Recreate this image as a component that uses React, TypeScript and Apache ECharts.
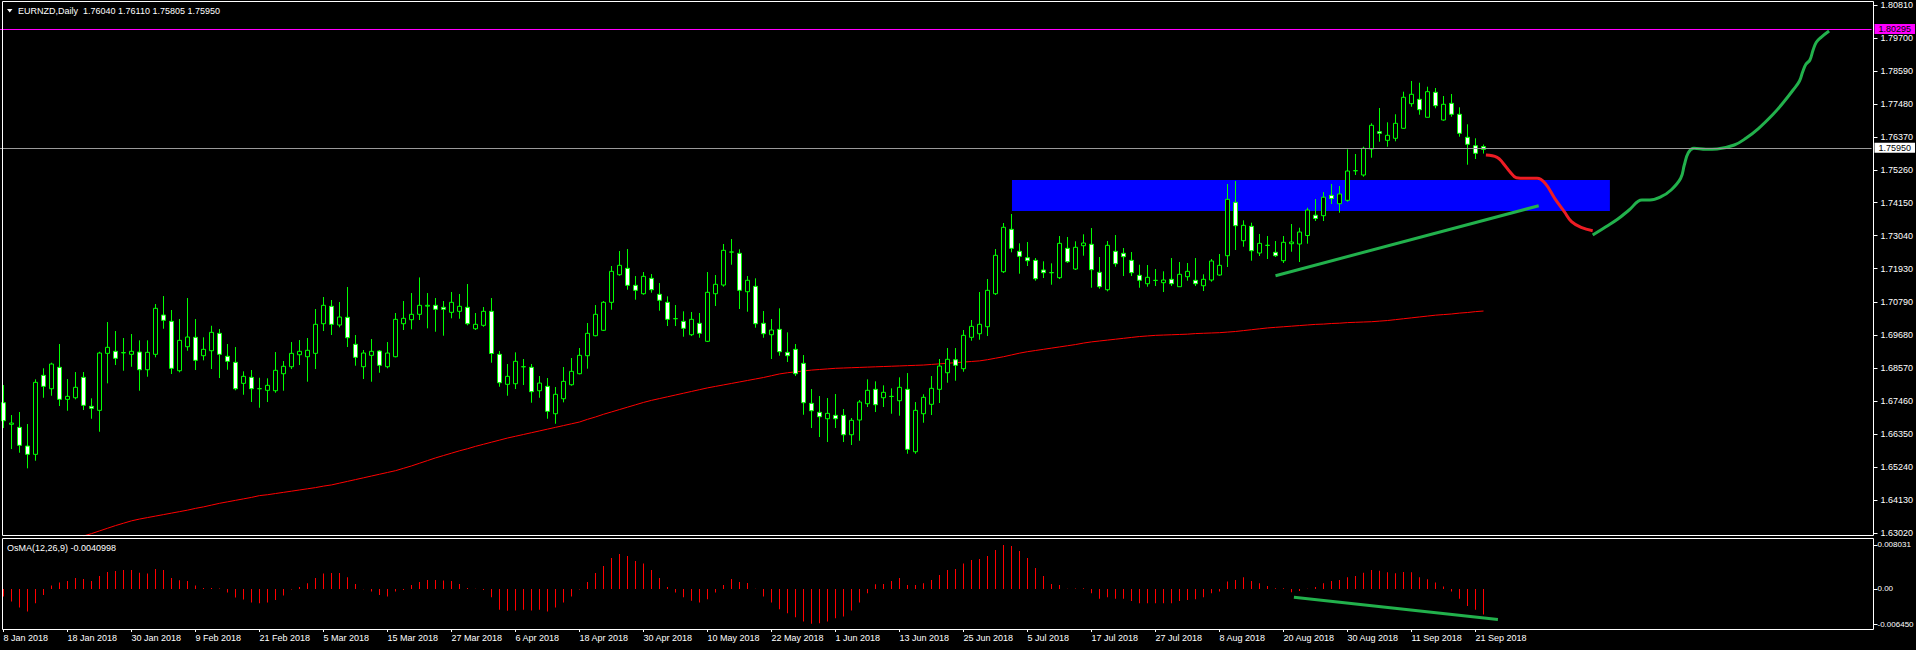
import React, { useEffect, useRef } from 'react';
import * as echarts from 'echarts';

const W = 1916;
const H = 650;
const N_SLOTS = 234; // bar slots visible in the window (data + empty space on the right)
const FONT = '"Liberation Sans", Arial, sans-serif';

const TITLE = 'EURNZD,Daily  1.76040 1.76110 1.75805 1.75950';
const OSMA_TITLE = 'OsMA(12,26,9) -0.0040998';

const TICK_LABELS = [
  '8 Jan 2018', '18 Jan 2018', '30 Jan 2018', '9 Feb 2018', '21 Feb 2018', '5 Mar 2018',
  '15 Mar 2018', '27 Mar 2018', '6 Apr 2018', '18 Apr 2018', '30 Apr 2018', '10 May 2018',
  '22 May 2018', '1 Jun 2018', '13 Jun 2018', '25 Jun 2018', '5 Jul 2018', '17 Jul 2018',
  '27 Jul 2018', '8 Aug 2018', '20 Aug 2018', '30 Aug 2018', '11 Sep 2018', '21 Sep 2018',
];
const TICK_EVERY = 8;

const PRICE_TICKS = [
  1.8081, 1.797, 1.7859, 1.7748, 1.7637, 1.7526, 1.7415, 1.7304, 1.7193,
  1.7079, 1.6968, 1.6857, 1.6746, 1.6635, 1.6524, 1.6413, 1.6302,
];
const PRICE_MIN = 1.62919;
const PRICE_MAX = 1.80913;
const BID_PRICE = 1.7595;
const ALERT_PRICE = 1.80295;

const OSMA_MIN = -0.00645;
const OSMA_MAX = 0.008031;
const OSMA_TICKS = [0.008031, 0, -0.00645];
const OSMA_TICK_TEXT = ['0.008031', '0.00', '-0.006450'];

// [open, high, low, close]
const OHLC: number[][] = [
  [1.6741, 1.68006, 1.66557, 1.66803], [1.66682, 1.66995, 1.65849, 1.66725], [1.6658, 1.67096, 1.65725, 1.65974],
  [1.6595, 1.66692, 1.65199, 1.65671], [1.65671, 1.68198, 1.65455, 1.68097], [1.68333, 1.68569, 1.67578, 1.67962],
  [1.67881, 1.68758, 1.67645, 1.68714], [1.68603, 1.69388, 1.67298, 1.67524], [1.67524, 1.68208, 1.6714, 1.67625],
  [1.67578, 1.68444, 1.67524, 1.67929], [1.68265, 1.68444, 1.67164, 1.67322], [1.67288, 1.67558, 1.6687, 1.67221],
  [1.67153, 1.69128, 1.66432, 1.69084], [1.69074, 1.70129, 1.68063, 1.69277], [1.69142, 1.69826, 1.6868, 1.68906],
  [1.6909, 1.6959, 1.68488, 1.691], [1.69041, 1.69725, 1.68623, 1.69142], [1.69118, 1.69512, 1.67814, 1.68522],
  [1.68522, 1.69512, 1.68286, 1.69108], [1.69041, 1.70736, 1.6894, 1.70591], [1.70365, 1.71005, 1.69903, 1.70186],
  [1.70153, 1.70534, 1.68377, 1.68569], [1.68488, 1.7023, 1.68434, 1.69512], [1.69297, 1.70938, 1.69162, 1.69624],
  [1.69614, 1.7023, 1.68512, 1.68838], [1.68994, 1.69614, 1.68838, 1.69209], [1.69162, 1.70004, 1.68545, 1.69782],
  [1.69748, 1.69893, 1.68242, 1.69041], [1.68974, 1.69388, 1.68522, 1.68805], [1.68771, 1.69287, 1.67828, 1.67881],
  [1.68063, 1.68468, 1.67679, 1.68299], [1.68265, 1.68512, 1.67433, 1.67881], [1.67885, 1.68252, 1.67241, 1.6788],
  [1.67828, 1.68232, 1.67433, 1.67996], [1.67814, 1.69118, 1.67747, 1.68502], [1.68387, 1.68815, 1.67814, 1.68637],
  [1.68623, 1.69455, 1.68545, 1.69074], [1.69027, 1.69522, 1.6868, 1.69142], [1.6896, 1.6959, 1.68118, 1.69176],
  [1.69074, 1.70568, 1.68545, 1.70052], [1.70072, 1.70972, 1.69826, 1.70692], [1.70659, 1.70871, 1.69691, 1.70052],
  [1.70028, 1.70803, 1.6995, 1.70298], [1.70288, 1.71309, 1.69287, 1.696], [1.69378, 1.69691, 1.68657, 1.6894],
  [1.68623, 1.69185, 1.68208, 1.69084], [1.69007, 1.69556, 1.68118, 1.69142], [1.69152, 1.69185, 1.6842, 1.6867],
  [1.68623, 1.69455, 1.68569, 1.69084], [1.6896, 1.70433, 1.6894, 1.7022], [1.70072, 1.70837, 1.6986, 1.70254],
  [1.70207, 1.71106, 1.69883, 1.70389], [1.70389, 1.71632, 1.70197, 1.70692], [1.70665, 1.71106, 1.69917, 1.70692],
  [1.70692, 1.70938, 1.69802, 1.70558], [1.70625, 1.70837, 1.69668, 1.70558], [1.70456, 1.7114, 1.70254, 1.70793],
  [1.7049, 1.71073, 1.70241, 1.70659], [1.70625, 1.7141, 1.70018, 1.70072], [1.69903, 1.70433, 1.6986, 1.70052],
  [1.70018, 1.70635, 1.6997, 1.7049], [1.7049, 1.70938, 1.68758, 1.69068], [1.69041, 1.69152, 1.67949, 1.68084],
  [1.6803, 1.68714, 1.67645, 1.68299], [1.6805, 1.69108, 1.67871, 1.68805], [1.6862, 1.68883, 1.68006, 1.68625],
  [1.68603, 1.68714, 1.6741, 1.67781], [1.67814, 1.68309, 1.67578, 1.68073], [1.67962, 1.68242, 1.6687, 1.6712],
  [1.67039, 1.67939, 1.66702, 1.67693], [1.67544, 1.68613, 1.67423, 1.6813], [1.68016, 1.68916, 1.67983, 1.68468],
  [1.68387, 1.69253, 1.68367, 1.69007], [1.68994, 1.70096, 1.68556, 1.69748], [1.69668, 1.70702, 1.69647, 1.70389],
  [1.6985, 1.70837, 1.69826, 1.70793], [1.70793, 1.72017, 1.70544, 1.71838], [1.71723, 1.72522, 1.7169, 1.7204],
  [1.71939, 1.72589, 1.71218, 1.71366], [1.71366, 1.71679, 1.70881, 1.71197], [1.71083, 1.71814, 1.71049, 1.71669],
  [1.71602, 1.71746, 1.71117, 1.71218], [1.71063, 1.71443, 1.7051, 1.70861], [1.70793, 1.70995, 1.69994, 1.7022],
  [1.7024, 1.70702, 1.69994, 1.70245], [1.70153, 1.7049, 1.69634, 1.69917], [1.69701, 1.70466, 1.69657, 1.7022],
  [1.70086, 1.70433, 1.696, 1.69748], [1.69479, 1.71814, 1.69455, 1.7113], [1.71083, 1.71713, 1.70669, 1.714],
  [1.71376, 1.72758, 1.71319, 1.72546], [1.72485, 1.72926, 1.7206, 1.7249], [1.72445, 1.72579, 1.70568, 1.71197],
  [1.7115, 1.71679, 1.70476, 1.71535], [1.71332, 1.71602, 1.69937, 1.70072], [1.70086, 1.705, 1.696, 1.69735],
  [1.69701, 1.7023, 1.68883, 1.6986], [1.69883, 1.70591, 1.68994, 1.69128], [1.69108, 1.69782, 1.68781, 1.68994],
  [1.69209, 1.69388, 1.68309, 1.68387], [1.68737, 1.69017, 1.67005, 1.6741], [1.6739, 1.67871, 1.66557, 1.6714],
  [1.67086, 1.67635, 1.66254, 1.66938], [1.6687, 1.67568, 1.66085, 1.67052], [1.66985, 1.67703, 1.66557, 1.6687],
  [1.66985, 1.67197, 1.66085, 1.66331], [1.66331, 1.66894, 1.65985, 1.66817], [1.66827, 1.67501, 1.66129, 1.67433],
  [1.67376, 1.68198, 1.67265, 1.67828], [1.67861, 1.6813, 1.67096, 1.67342], [1.67578, 1.67996, 1.67265, 1.6776],
  [1.6762, 1.67895, 1.67039, 1.67625], [1.67477, 1.68265, 1.66972, 1.67929], [1.67861, 1.6841, 1.65691, 1.65839],
  [1.65758, 1.67433, 1.65691, 1.67153], [1.67039, 1.67693, 1.66736, 1.67592], [1.67356, 1.68309, 1.66995, 1.67895],
  [1.67861, 1.68883, 1.674, 1.68646], [1.6842, 1.69253, 1.68084, 1.68873], [1.68859, 1.69253, 1.68151, 1.6867],
  [1.68556, 1.6986, 1.68454, 1.69681], [1.69614, 1.70197, 1.69499, 1.69984], [1.69735, 1.7114, 1.69533, 1.70052],
  [1.69971, 1.71578, 1.69657, 1.71197], [1.71083, 1.72589, 1.71039, 1.72377], [1.71824, 1.73466, 1.71781, 1.73321],
  [1.73253, 1.73769, 1.72478, 1.72613], [1.72512, 1.72781, 1.71757, 1.72343], [1.72296, 1.72825, 1.72017, 1.72195],
  [1.72208, 1.72286, 1.71521, 1.71588], [1.71882, 1.72175, 1.71612, 1.71791], [1.7179, 1.72107, 1.71386, 1.71795],
  [1.71622, 1.73027, 1.71578, 1.72781], [1.72613, 1.72994, 1.72118, 1.72161], [1.71916, 1.72849, 1.71882, 1.72647],
  [1.727, 1.73085, 1.72364, 1.72791], [1.72748, 1.73297, 1.71285, 1.71892], [1.71804, 1.7232, 1.71251, 1.71319],
  [1.71218, 1.72859, 1.71164, 1.72714], [1.72512, 1.73061, 1.71993, 1.72094], [1.72445, 1.72623, 1.71679, 1.7233],
  [1.72208, 1.72488, 1.71679, 1.71791], [1.71703, 1.7206, 1.71285, 1.71535], [1.7142, 1.7205, 1.71319, 1.71636],
  [1.7153, 1.71916, 1.71342, 1.71535], [1.71454, 1.71838, 1.7114, 1.71545], [1.71568, 1.72286, 1.71342, 1.7142],
  [1.71319, 1.72151, 1.71319, 1.71737], [1.71656, 1.72118, 1.71521, 1.71838], [1.71535, 1.72286, 1.71342, 1.7142],
  [1.71352, 1.71737, 1.71174, 1.71568], [1.71545, 1.72252, 1.71488, 1.72185], [1.71713, 1.72421, 1.7169, 1.7204],
  [1.72364, 1.7478, 1.71983, 1.74264], [1.74163, 1.74881, 1.72556, 1.73375], [1.72869, 1.73556, 1.72667, 1.73388],
  [1.73354, 1.73476, 1.72195, 1.72532], [1.72455, 1.73095, 1.72354, 1.72781], [1.7271, 1.73027, 1.72252, 1.72715],
  [1.72478, 1.72859, 1.7232, 1.72364], [1.72195, 1.73027, 1.72118, 1.72815], [1.72768, 1.73432, 1.72498, 1.72825],
  [1.72758, 1.73307, 1.72151, 1.73162], [1.73044, 1.73981, 1.72768, 1.73904], [1.73729, 1.74274, 1.73533, 1.73617],
  [1.73712, 1.7451, 1.73533, 1.74335], [1.74399, 1.7478, 1.74106, 1.74291], [1.74116, 1.74712, 1.73812, 1.74443],
  [1.74231, 1.75949, 1.74183, 1.75218], [1.75225, 1.75791, 1.75083, 1.7523], [1.75083, 1.76037, 1.75026, 1.75983],
  [1.75959, 1.76825, 1.75666, 1.76758], [1.76542, 1.77341, 1.76205, 1.76488], [1.76252, 1.76859, 1.76037, 1.76421],
  [1.7632, 1.77129, 1.76219, 1.76825], [1.76657, 1.77891, 1.76643, 1.77702], [1.77486, 1.78251, 1.77385, 1.77803],
  [1.77634, 1.78193, 1.77115, 1.77284], [1.77028, 1.78059, 1.77028, 1.77891], [1.7787, 1.78015, 1.77331, 1.77419],
  [1.76937, 1.77745, 1.76913, 1.77466], [1.77499, 1.77813, 1.77048, 1.77129], [1.77129, 1.77365, 1.76374, 1.76488],
  [1.76354, 1.76792, 1.7543, 1.76118], [1.76071, 1.7632, 1.75623, 1.75814], [1.7604, 1.7611, 1.75805, 1.7595],
];

// 200-period moving average, first visible at bar 10
const MA_START = 10;
const MA_VALUES = [
  1.6292, 1.63, 1.6309, 1.6318, 1.6327, 1.6335, 1.6343, 1.6349, 1.6354, 1.6359,
  1.6364, 1.6369, 1.6374, 1.6379, 1.6385, 1.639, 1.6396, 1.6402, 1.6407, 1.6412,
  1.6417, 1.6422, 1.6428, 1.6431, 1.6435, 1.6439, 1.6443, 1.6447, 1.6451, 1.6455,
  1.646, 1.6464, 1.647, 1.6476, 1.6482, 1.6488, 1.6494, 1.65, 1.6506, 1.6512,
  1.652, 1.6528, 1.6537, 1.6546, 1.6555, 1.6563, 1.6571, 1.6579, 1.6586, 1.6594,
  1.6601, 1.6608, 1.6615, 1.6622, 1.6628, 1.6634, 1.664, 1.6646, 1.6652, 1.6658,
  1.6664, 1.667, 1.6676, 1.6685, 1.6693, 1.6702, 1.671, 1.6718, 1.6726, 1.6734,
  1.6742, 1.6749, 1.6755, 1.6761, 1.6767, 1.6773, 1.6779, 1.6785, 1.6791, 1.6796,
  1.6801, 1.6806, 1.6811, 1.6816, 1.6821, 1.6826, 1.6832, 1.6838, 1.6842, 1.6845,
  1.6848, 1.6851, 1.6853, 1.6855, 1.6857, 1.6858, 1.6859, 1.686, 1.6861, 1.6862,
  1.6863, 1.6864, 1.6865, 1.6866, 1.6867, 1.6868, 1.687, 1.6872, 1.6874, 1.6876,
  1.6878, 1.688, 1.6882, 1.6886, 1.6891, 1.6896, 1.6902, 1.6908, 1.6913, 1.6917,
  1.6921, 1.6925, 1.6929, 1.6933, 1.6937, 1.6942, 1.6946, 1.6949, 1.6952, 1.6955,
  1.6958, 1.6961, 1.6964, 1.6966, 1.6968, 1.6969, 1.697, 1.6971, 1.6972, 1.6974,
  1.6975, 1.6976, 1.6977, 1.6979, 1.6981, 1.6984, 1.6987, 1.699, 1.6993, 1.6995,
  1.6997, 1.6999, 1.7001, 1.7003, 1.7005, 1.7006, 1.7008, 1.7009, 1.7011, 1.7012,
  1.7013, 1.7014, 1.7016, 1.7018, 1.7021, 1.7024, 1.7027, 1.703, 1.7033, 1.7036,
  1.7038, 1.704, 1.7043, 1.7045, 1.7048, 1.705,
];

const OSMA = [
  -0.00123, -0.00203, -0.003, -0.00364, -0.0023, -0.00096, 0.00054, 0.00102, 0.00128, 0.00177,
  0.0016, 0.00128, 0.00209, 0.00273, 0.00289, 0.00305, 0.00305, 0.00262, 0.00246, 0.00321,
  0.00305, 0.00177, 0.00139, 0.00128, 0.00054, 0.00016, 0.00016, 0.00005, -0.00059, -0.00139,
  -0.00171, -0.0022, -0.0023, -0.0022, -0.00177, -0.00107, -0.0001, 0.00032, 0.00091, 0.00177,
  0.00246, 0.00257, 0.00257, 0.00187, 0.0008, -0.00005, -0.00043, -0.00096, -0.00123, -0.00043,
  -0.00016, 0.00064, 0.00112, 0.00145, 0.00145, 0.00134, 0.00128, 0.0008, 0.00016, 0.00002,
  -0.00016, -0.00134, -0.00337, -0.00353, -0.00348, -0.00337, -0.00348, -0.00337, -0.00364, -0.003,
  -0.0022, -0.00123, -0.0001, 0.00112, 0.00257, 0.00369, 0.00498, 0.00562, 0.0053, 0.0045,
  0.00407, 0.00305, 0.00177, 0.00032, -0.00059, -0.00134, -0.0019, -0.0022, -0.00166, -0.00059,
  0.00064, 0.0016, 0.00112, 0.00096, 0.00002, -0.00123, -0.0022, -0.00327, -0.00391, -0.00455,
  -0.00525, -0.00562, -0.00551, -0.00525, -0.00471, -0.00444, -0.00348, -0.0022, -0.0007, 0.00075,
  0.0008, 0.00128, 0.00177, 0.00064, 0.00064, 0.00091, 0.00145, 0.00225, 0.00305, 0.00321,
  0.00407, 0.00466, 0.00482, 0.0053, 0.00626, 0.00707, 0.00691, 0.0061, 0.00498, 0.00337,
  0.00209, 0.0008, 0.00064, 0.00002, 0.00005, 0.0001, -0.0007, -0.0016, -0.00134, -0.0016,
  -0.0016, -0.00193, -0.0023, -0.0023, -0.0023, -0.0023, -0.0023, -0.00193, -0.00177, -0.00166,
  -0.00134, -0.0007, -0.00043, 0.00118, 0.00145, 0.00187, 0.00128, 0.00091, 0.00048, 0.0001,
  0.0001, -0.00054, -0.00032, 0.00003, 0.00032, 0.00091, 0.00128, 0.00145, 0.00187, 0.00209,
  0.00262, 0.00305, 0.00294, 0.00268, 0.00252, 0.00273, 0.00268, 0.00187, 0.00155, 0.00102,
  0.00037, -0.00043, -0.0016, -0.00273, -0.00337, -0.0041,
];

// Drawn objects, in (bar position, price) units
const ZONE_BARS = [126.06, 200.8];
const ZONE_PRICES = [1.74915, 1.7387];
const TRENDLINE = [[159.0, 1.7169], [191.9, 1.74047]];
const PROJ_DOWN = [
  [185.3, 1.75757], [186.7, 1.7568], [187.4, 1.75498], [188.3, 1.75195], [189.1, 1.74993],
  [190.3, 1.74972], [191.7, 1.74972], [192.7, 1.74804], [193.9, 1.74298], [195.1, 1.73847],
  [196.0, 1.7351], [197.2, 1.73321], [198.65, 1.73207],
];
const PROJ_UP = [
  [198.65, 1.73062], [200.3, 1.73341], [201.75, 1.73591], [203.2, 1.73904], [204.8, 1.74241],
  [205.8, 1.74241], [207.2, 1.74352], [208.45, 1.74578], [209.65, 1.74972], [210.1, 1.7542],
  [210.6, 1.75835], [211.3, 1.75983], [212.8, 1.7595], [214.2, 1.7596], [216.35, 1.76094],
  [217.8, 1.7632], [219.4, 1.76657], [221.2, 1.77129], [222.4, 1.775], [223.7, 1.77948],
  [224.5, 1.78251], [224.9, 1.78564], [225.3, 1.78814], [225.8, 1.78959], [226.2, 1.79296],
  [226.6, 1.79555], [227.2, 1.79724], [228.2, 1.79936],
];
const OSMA_TRENDLINE = [[161.3, -0.00133], [186.8, -0.00493]];

export default function App() {
  const ref = useRef<HTMLDivElement>(null);

  useEffect(() => {
    document.body.style.margin = '0';
    document.body.style.background = '#000';
    const chart = echarts.init(ref.current as HTMLDivElement, undefined, {
      renderer: 'svg',
      width: W,
      height: H,
    });

    const cats = Array.from({ length: N_SLOTS }, (_, i) => String(i));
    const candleData = OHLC.map(([o, h, l, c]) => [o, c, l, h]);
    const maData: (number | null)[] = [];
    for (let i = 0; i < MA_START; i++) maData.push(null);
    MA_VALUES.forEach((v) => maData.push(v));

    const isTick = (idx: number) =>
      idx % TICK_EVERY === 0 && idx / TICK_EVERY < TICK_LABELS.length;

    const textStyle = { color: '#fff', fontSize: 9, fontFamily: FONT };
    const gridL = -0.5;
    const gridW = N_SLOTS * 8;

    const option: any = {
      animation: false,
      backgroundColor: '#000',
      grid: [
        { left: gridL, top: 2, width: gridW, height: 534, containLabel: false, outerBoundsMode: 'none' },
        { left: gridL, top: 539, width: gridW, height: 90, containLabel: false, outerBoundsMode: 'none' },
      ],
      xAxis: [
        { type: 'category', gridIndex: 0, data: cats, show: false, axisLine: { onZero: false } },
        {
          type: 'category',
          gridIndex: 1,
          data: cats,
          position: 'bottom',
          axisLine: { show: false, onZero: false },
          axisTick: {
            show: true,
            alignWithLabel: true,
            interval: (idx: number) => isTick(idx),
            length: 3,
            lineStyle: { color: '#fff', width: 1 },
          },
          axisLabel: {
            interval: (idx: number) => isTick(idx),
            formatter: (v: string) => {
              const idx = Number(v);
              return isTick(idx) ? TICK_LABELS[idx / TICK_EVERY] : '';
            },
            align: 'left',
            margin: 4,
            ...textStyle,
          },
          splitLine: { show: false },
        },
        { type: 'value', gridIndex: 0, min: -0.5, max: N_SLOTS - 0.5, show: false, position: 'top', axisLine: { onZero: false } },
        { type: 'value', gridIndex: 1, min: -0.5, max: N_SLOTS - 0.5, show: false, position: 'top', axisLine: { onZero: false } },
      ],
      yAxis: [
        {
          type: 'value',
          gridIndex: 0,
          position: 'right',
          offset: 2,
          min: PRICE_MIN,
          max: PRICE_MAX,
          splitLine: { show: false },
          axisLine: { show: false, onZero: false },
          axisTick: {
            show: true,
            customValues: PRICE_TICKS,
            length: 4,
            lineStyle: { color: '#fff', width: 1 },
          },
          axisLabel: {
            customValues: PRICE_TICKS,
            formatter: (v: number) => v.toFixed(5),
            margin: 7,
            ...textStyle,
          },
        },
        {
          type: 'value',
          gridIndex: 1,
          position: 'left',
          min: OSMA_MIN,
          max: OSMA_MAX,
          show: false,
          splitLine: { show: false },
          axisLine: { onZero: false },
        },
        {
          type: 'value',
          gridIndex: 1,
          position: 'right',
          offset: 2,
          min: -0.007301,
          max: 0.009126,
          splitLine: { show: false },
          axisLine: { show: false, onZero: false },
          axisTick: {
            show: true,
            customValues: OSMA_TICKS,
            length: 4,
            lineStyle: { color: '#fff', width: 1 },
          },
          axisLabel: {
            customValues: OSMA_TICKS,
            formatter: (v: number) => {
              const k = OSMA_TICKS.findIndex((t) => Math.abs(t - v) < 1e-7);
              return k >= 0 ? OSMA_TICK_TEXT[k] : '';
            },
            margin: 4,
            color: '#fff',
            fontSize: 8,
            fontFamily: FONT,
          },
        },
      ],
      series: [
        {
          type: 'custom',
          xAxisIndex: 2,
          yAxisIndex: 0,
          z: 1,
          silent: true,
          data: [[ZONE_BARS[0], ZONE_BARS[1], ZONE_PRICES[0], ZONE_PRICES[1]]],
          renderItem: (params: any, api: any) => {
            const p0 = api.coord([api.value(0), api.value(2)]);
            const p1 = api.coord([api.value(1), api.value(3)]);
            return {
              type: 'rect',
              shape: { x: p0[0], y: p0[1], width: p1[0] - p0[0], height: p1[1] - p0[1] },
              style: { fill: '#0000ff' },
            };
          },
        },
        {
          type: 'line',
          xAxisIndex: 0,
          yAxisIndex: 0,
          z: 2,
          data: maData,
          showSymbol: false,
          silent: true,
          lineStyle: { color: '#ff0000', width: 1 },
        },
        {
          type: 'candlestick',
          xAxisIndex: 0,
          yAxisIndex: 0,
          z: 3,
          barWidth: 4,
          silent: true,
          data: candleData,
          itemStyle: {
            color: '#000000',
            color0: '#ffffff',
            borderColor: '#00ff00',
            borderColor0: '#00ff00',
            borderColorDoji: '#00ff00',
            borderWidth: 1,
          },
          markLine: {
            silent: true,
            symbol: ['none', 'none'],
            animation: false,
            data: [
              {
                yAxis: BID_PRICE,
                lineStyle: { color: '#9a9a9a', width: 1, type: 'solid' },
                label: {
                  show: true,
                  position: 'end',
                  formatter: BID_PRICE.toFixed(5),
                  backgroundColor: '#ffffff',
                  color: '#000',
                  padding: [1, 4, 0, 4],
                  distance: 3,
                  fontSize: 9,
                  fontFamily: FONT,
                },
              },
              {
                yAxis: ALERT_PRICE,
                lineStyle: { color: '#ff00ff', width: 1, type: 'solid' },
                label: {
                  show: true,
                  position: 'end',
                  formatter: ALERT_PRICE.toFixed(5),
                  backgroundColor: '#ff00ff',
                  color: '#000',
                  padding: [1, 4, 0, 4],
                  distance: 3,
                  fontSize: 9,
                  fontFamily: FONT,
                },
              },
            ],
          },
        },
        {
          type: 'line',
          xAxisIndex: 2,
          yAxisIndex: 0,
          z: 4,
          data: TRENDLINE,
          showSymbol: false,
          silent: true,
          lineStyle: { color: '#22b14c', width: 3 },
        },
        {
          type: 'line',
          xAxisIndex: 2,
          yAxisIndex: 0,
          z: 4,
          data: PROJ_DOWN,
          smooth: 0.4,
          showSymbol: false,
          silent: true,
          lineStyle: { color: '#ed1c24', width: 3 },
        },
        {
          type: 'line',
          xAxisIndex: 2,
          yAxisIndex: 0,
          z: 4,
          data: PROJ_UP,
          smooth: 0.4,
          showSymbol: false,
          silent: true,
          lineStyle: { color: '#22b14c', width: 3 },
        },
        {
          type: 'bar',
          xAxisIndex: 1,
          yAxisIndex: 1,
          data: OSMA,
          barWidth: 1,
          silent: true,
          itemStyle: { color: '#ff0000' },
        },
        {
          type: 'line',
          xAxisIndex: 3,
          yAxisIndex: 1,
          z: 4,
          data: OSMA_TRENDLINE,
          showSymbol: false,
          silent: true,
          lineStyle: { color: '#22b14c', width: 3 },
        },
      ],
      graphic: [
        {
          type: 'rect',
          z: 100,
          silent: true,
          shape: { x: 2.5, y: 1.5, width: 1871, height: 534 },
          style: { fill: 'none', stroke: '#ffffff', lineWidth: 1 },
        },
        {
          type: 'rect',
          z: 100,
          silent: true,
          shape: { x: 2.5, y: 538.5, width: 1871, height: 91 },
          style: { fill: 'none', stroke: '#ffffff', lineWidth: 1 },
        },
        {
          type: 'polygon',
          z: 100,
          silent: true,
          shape: { points: [[7, 9], [12.5, 9], [9.75, 12.5]] },
          style: { fill: '#ffffff' },
        },
        {
          type: 'text',
          z: 100,
          silent: true,
          x: 18,
          y: 11,
          style: {
            text: TITLE,
            fill: '#ffffff',
            font: `9px ${FONT}`,
            align: 'left',
            verticalAlign: 'middle',
          },
        },
        {
          type: 'text',
          z: 100,
          silent: true,
          x: 7,
          y: 548,
          style: {
            text: OSMA_TITLE,
            fill: '#ffffff',
            font: `9px ${FONT}`,
            align: 'left',
            verticalAlign: 'middle',
          },
        },
      ],
    };

    chart.setOption(option);
    return () => chart.dispose();
  }, []);

  return <div ref={ref} style={{ width: W, height: H, background: '#000' }} />;
}
